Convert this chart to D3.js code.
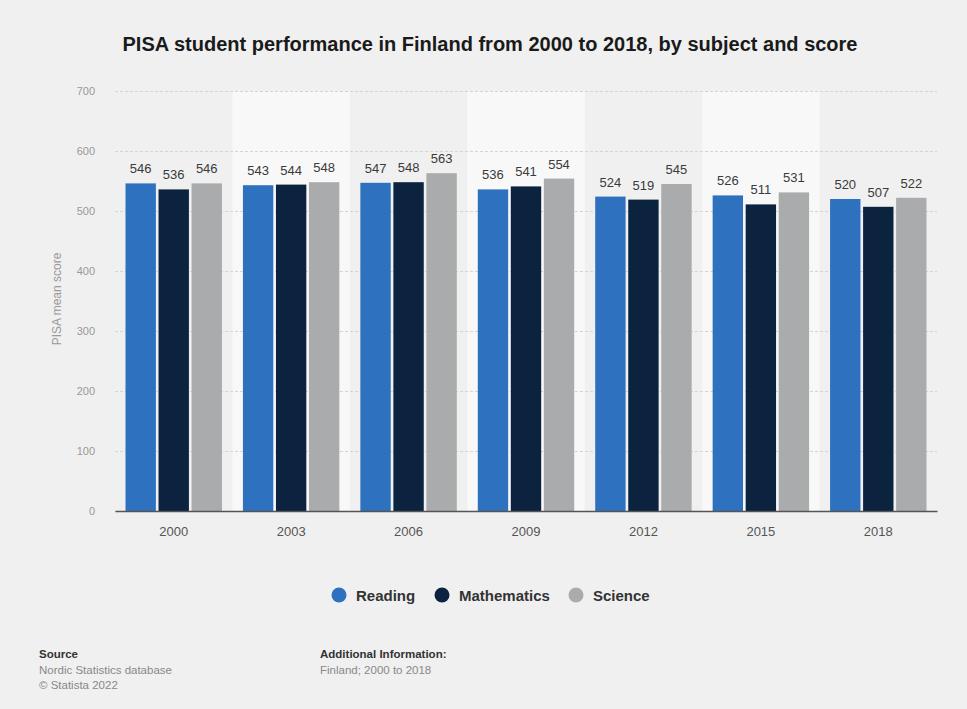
<!DOCTYPE html>
<html>
<head>
<meta charset="utf-8">
<script src="https://cdn.jsdelivr.net/npm/d3@7"></script>
<style>
  html, body { margin: 0; padding: 0; background: #f0f0f0; }
  svg { display: block; font-family: "Liberation Sans", Arial, sans-serif; }
</style>
</head>
<body>
<svg id="chart" width="967" height="709"></svg>
<script>
const years = ["2000", "2003", "2006", "2009", "2012", "2015", "2018"];
const seriesNames = ["Reading", "Mathematics", "Science"];
const reading = [546, 543, 547, 536, 524, 526, 520];
const mathematics = [536, 544, 548, 541, 519, 511, 507];
const science = [546, 548, 563, 554, 545, 531, 522];
const yTicks = [0, 100, 200, 300, 400, 500, 600, 700];
const colors = ["#2e72bf", "#0c2340", "#a9abad"];

const seriesValues = [reading, mathematics, science];

const svg = d3.select("#chart");
const W = 967, H = 709;
const m = { left: 115, right: 937, top: 91, bottom: 511 };

svg.append("rect").attr("width", W).attr("height", H).attr("fill", "#f0f0f0");

const x0 = d3.scaleBand().domain(years).range([m.left, m.right]).paddingInner(0).paddingOuter(0);
const x1 = d3.scaleBand().domain(seriesNames).range([10.5, x0.bandwidth() - 10.5]).paddingInner(0.08);
const y = d3.scaleLinear().domain([0, 700]).range([m.bottom, m.top]);

// alternating bands
svg.append("g").selectAll("rect")
  .data(years.filter((d, i) => i % 2 === 1))
  .join("rect")
  .attr("x", d => x0(d))
  .attr("y", m.top)
  .attr("width", x0.bandwidth())
  .attr("height", m.bottom - m.top)
  .attr("fill", "#f8f8f8");

// gridlines
const yAxis = d3.axisLeft(y).tickValues(yTicks).tickSize(-(m.right - m.left)).tickPadding(20);
const gy = svg.append("g").attr("transform", `translate(${m.left},0)`).call(yAxis);
gy.select(".domain").remove();
gy.selectAll(".tick line").attr("stroke", "#d4d4d4").attr("stroke-dasharray", "3,2");
gy.selectAll(".tick text").attr("fill", "#999").style("font-size", "11px")
  .style("font-family", "'Liberation Sans', Arial, sans-serif");

// y title
svg.append("text")
  .attr("transform", `translate(61,299) rotate(-90)`)
  .attr("text-anchor", "middle")
  .attr("fill", "#999")
  .style("font-size", "12px")
  .text("PISA mean score");

// bars
const groups = svg.append("g").selectAll("g")
  .data(years)
  .join("g")
  .attr("transform", d => `translate(${x0(d)},0)`);

groups.selectAll("rect")
  .data((d, i) => seriesNames.map((s, j) => ({ s, v: seriesValues[j][i], j })))
  .join("rect")
  .attr("x", d => x1(d.s))
  .attr("y", d => y(d.v))
  .attr("width", x1.bandwidth())
  .attr("height", d => y(0) - y(d.v))
  .attr("fill", d => colors[d.j]);

groups.selectAll("text")
  .data((d, i) => seriesNames.map((s, j) => ({ s, v: seriesValues[j][i], j })))
  .join("text")
  .attr("x", d => x1(d.s) + x1.bandwidth() / 2)
  .attr("y", d => y(d.v) - 10)
  .attr("text-anchor", "middle")
  .attr("fill", "#3a3a3a")
  .style("font-size", "13px")
  .text(d => d.v);

// x axis
const xAxis = d3.axisBottom(x0).tickSize(0).tickPadding(16);
const gx = svg.append("g").attr("transform", `translate(0,${m.bottom})`).call(xAxis);
gx.select(".domain").attr("stroke", "#555").attr("stroke-width", 1.5);
gx.selectAll(".tick text").attr("fill", "#555").style("font-size", "13px")
  .style("font-family", "'Liberation Sans', Arial, sans-serif");

// title
svg.append("text")
  .attr("x", 490).attr("y", 51)
  .attr("text-anchor", "middle")
  .attr("fill", "#1a1a1a")
  .style("font-size", "20px")
  .style("font-weight", "bold")
  .text("PISA student performance in Finland from 2000 to 2018, by subject and score");

// legend
const legendX = [339, 442, 576];
const lg = svg.append("g").selectAll("g").data(seriesNames).join("g")
  .attr("transform", (d, i) => `translate(${legendX[i]},595)`);
lg.append("circle").attr("r", 7.5).attr("fill", (d, i) => colors[i]);
lg.append("text").attr("x", 17).attr("y", 5.5)
  .attr("fill", "#333")
  .style("font-size", "15px").style("font-weight", "bold")
  .text(d => d);

// footer
const foot = svg.append("g").style("font-size", "11.5px");
foot.append("text").attr("x", 39).attr("y", 658).attr("fill", "#333").style("font-weight", "bold").text("Source");
foot.append("text").attr("x", 39).attr("y", 674).attr("fill", "#888").text("Nordic Statistics database");
foot.append("text").attr("x", 39).attr("y", 689).attr("fill", "#888").text("© Statista 2022");
foot.append("text").attr("x", 320).attr("y", 658).attr("fill", "#333").style("font-weight", "bold").text("Additional Information:");
foot.append("text").attr("x", 320).attr("y", 674).attr("fill", "#888").text("Finland; 2000 to 2018");
</script>
</body>
</html>
